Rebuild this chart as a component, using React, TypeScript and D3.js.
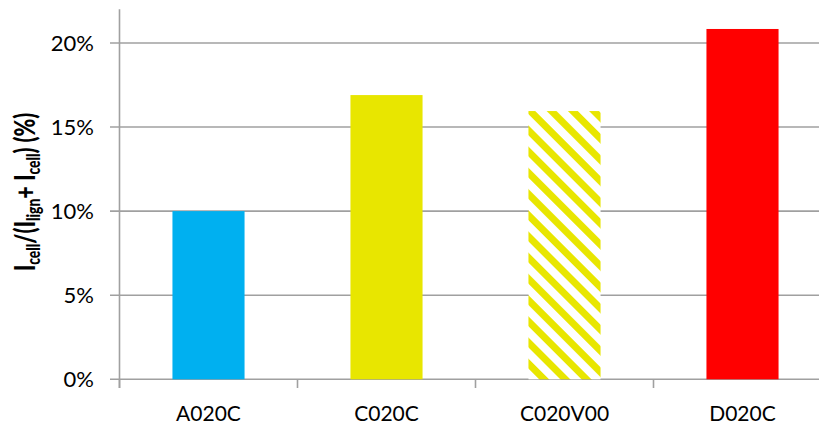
import React from "react";
import * as d3 from "d3";

const categories = ["A020C", "C020C", "C020V00", "D020C"];
const values = [0.1, 0.169, 0.1595, 0.2083];
const colors = ["#00B0F0", "#E8E600", "hatch", "#FF0000"];
const yTicks = [0, 0.05, 0.1, 0.15, 0.2];

const W = 819;
const H = 427;

export default function App() {
  const left = 119.5;
  const x = d3.scaleBand<string>().domain(categories).range([left, left + 712]).paddingInner(0.595).paddingOuter(0.2975);
  const y = d3.scaleLinear().domain([0, 0.22]).range([379.3, 9.3]);
  const fmt = d3.format(".0%");
  const font = "Lato, 'Open Sans', sans-serif";
  const bandStep = 178;
  return (
    <svg width={W} height={H} style={{ position: "absolute", left: 0, top: 0, background: "#fff" }}>
      <defs>
        <pattern id="hatch" patternUnits="userSpaceOnUse" width={15} height={15} patternTransform="rotate(45)">
          <rect width={15} height={15} fill="#fff" />
          <rect x={0} y={0} width={15} height={7} fill="#E8E600" />
        </pattern>
      </defs>
      {yTicks.map((t) => (
        <g key={t}>
          <line x1={110} x2={W} y1={y(t)} y2={y(t)} stroke="#A0A0A0" strokeWidth={1.6} />
          <text x={94} y={y(t)} dy="0.36em" textAnchor="end" fontFamily={font} fontSize={22} fill="#000">
            {fmt(t)}
          </text>
        </g>
      ))}
      <line x1={left} x2={left} y1={y(0.22)} y2={388} stroke="#A0A0A0" strokeWidth={1.6} />
      {categories.map((c, i) => (
        <line key={"t" + c} x1={left + i * bandStep} x2={left + i * bandStep} y1={379} y2={388} stroke="#A0A0A0" strokeWidth={1.6} />
      ))}
      {categories.map((c, i) => (
        <rect
          key={c}
          x={x(c)}
          y={y(values[i])}
          width={x.bandwidth()}
          height={y(0) - y(values[i])}
          fill={colors[i] === "hatch" ? "url(#hatch)" : colors[i]}
        />
      ))}
      {categories.map((c) => (
        <text key={"l" + c} x={(x(c) as number) + x.bandwidth() / 2} y={421} textAnchor="middle" fontFamily={font} fontSize={21} fill="#000">
          {c}
        </text>
      ))}
      <text
        transform="translate(35,192) rotate(-90) scale(0.77,1)"
        textAnchor="middle"
        fontFamily={font}
        fontSize={28}
        fontWeight="900"
        fill="#000"
      >
        <tspan>I</tspan>
        <tspan fontSize={18} dy={5}>cell</tspan>
        <tspan dy={-5}>/(I</tspan>
        <tspan fontSize={18} dy={5}>lign</tspan>
        <tspan dy={-5}>+ I</tspan>
        <tspan fontSize={18} dy={5}>cell</tspan>
        <tspan dy={-5}>) (%)</tspan>
      </text>
    </svg>
  );
}
